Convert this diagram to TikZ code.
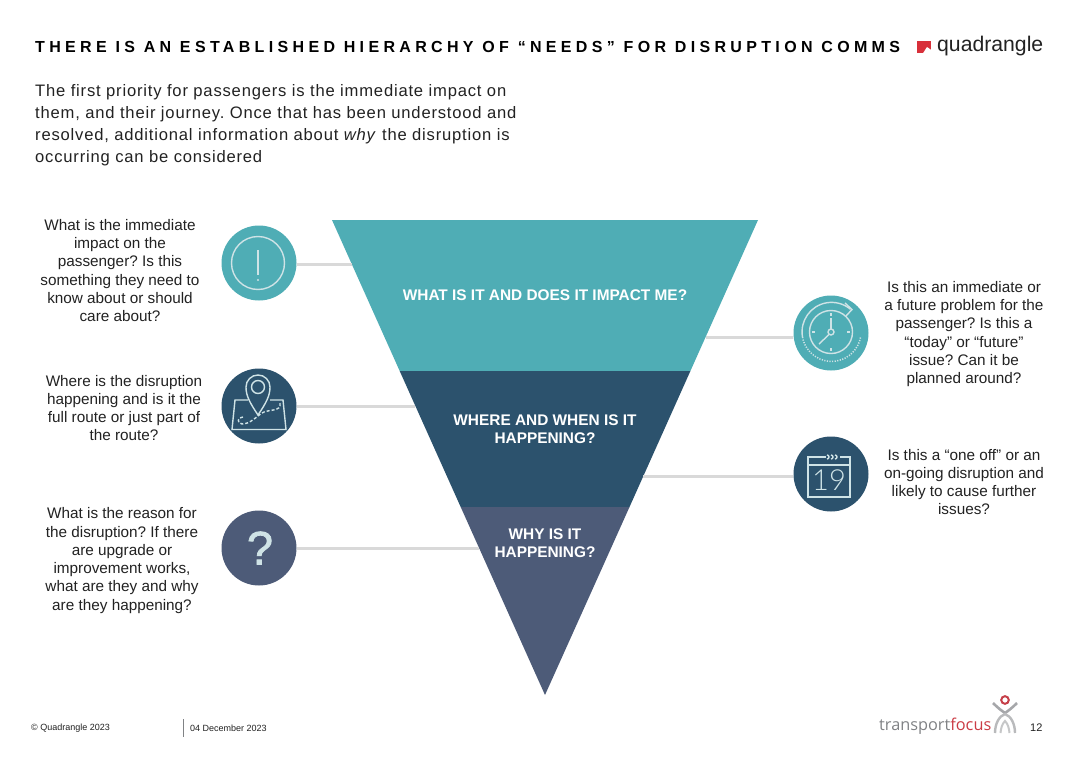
\documentclass[tikz,border=0pt]{standalone}
\usepackage{fontspec}
\setmainfont{Liberation Sans}
\newfontfamily\titlefont[LetterSpace=27.1]{Liberation Sans}
\newfontfamily\introfont[LetterSpace=4.85]{Liberation Sans}
\newfontfamily\qfont[FakeBold=1.6]{Liberation Sans}
\newfontfamily\logofont{Open Sans}
\newfontfamily\thinfont{Lato Light}
\definecolor{teal}{HTML}{4FADB5}
\definecolor{navy}{HTML}{2C526D}
\definecolor{slate}{HTML}{4D5B78}
\definecolor{ink}{HTML}{222222}
\definecolor{linkgrey}{HTML}{D9D9D9}
\definecolor{iconline}{HTML}{CFE3E6}
\definecolor{logored}{HTML}{D8303A}
\definecolor{tfgrey}{HTML}{808285}
\tikzset{
  x=1pt,y=-1pt,
  side/.style={align=center,text=ink,font=\frenchspacing\fontsize{15.3}{18.3}\selectfont,inner sep=0pt},
  band/.style={align=center,text=white,font=\fontsize{15.4}{18.3}\selectfont\bfseries,inner sep=0pt},
  iconcircle/.style={circle,minimum size=75pt,inner sep=0pt,fill=#1},
  link/.style={draw=linkgrey,line width=3pt},
  icon/.style={draw=iconline,line width=1.4pt},
  foot/.style={text=ink,font=\fontsize{9}{10}\selectfont,inner sep=0pt,anchor=west},
}
\begin{document}
\begin{tikzpicture}
\useasboundingbox (0,0) rectangle (1080,763);
\fill[white] (0,0) rectangle (1080,763);
% title
\node[anchor=west,inner sep=0pt,text=black] (title) at (35,47) {\titlefont\fontsize{16}{18}\selectfont\bfseries THERE IS AN ESTABLISHED HIERARCHY OF “NEEDS” FOR DISRUPTION COMMS};
\node[anchor=north west,inner sep=0pt,align=left,text=ink,font=\frenchspacing\introfont\fontsize{16.6}{22}\selectfont] (intro) at (35,84) {The first priority for passengers is the immediate impact on\\them, and their journey. Once that has been understood and\\resolved, additional information about \textit{why} the disruption is\\occurring can be considered};
% logo
\fill[logored] (917,41) rectangle (931,53);
\fill[white] (923,53.2) -- (927,47) -- (931.2,50) -- (931.2,53.2) -- cycle;
\node[anchor=west,inner sep=0pt,text=ink] (qlogo) at (937,46) {\fontsize{21.2}{22}\selectfont quadrangle};
% pyramid
\fill[teal] (332,220) -- (758,220) -- (690.4,371) -- (399.7,371) -- cycle;
\fill[navy] (399.7,371) -- (690.4,371) -- (629.5,507) -- (460.7,507) -- cycle;
\fill[slate] (460.7,507) -- (629.5,507) -- (545,695) -- cycle;
\node[band] (b1) at (545,295.5) {WHAT IS IT AND DOES IT IMPACT ME?};
\node[band] (b2) at (545,429.5) {WHERE AND WHEN IS IT\\HAPPENING?};
\node[band] (b3) at (545,543) {WHY IS IT\\HAPPENING?};
% link end points
\coordinate (e1) at (352,264);
\coordinate (e2) at (415,406);
\coordinate (e3) at (479,548);
\coordinate (e4) at (705.5,337);
\coordinate (e5) at (643,476);
% circles
\node[iconcircle=teal] (c1) at (259,263) {};
\node[iconcircle=navy] (c2) at (259,406) {};
\node[iconcircle=slate] (c3) at (259,548) {};
\node[iconcircle=teal] (c4) at (831,333) {};
\node[iconcircle=navy] (c5) at (831,474) {};
% connectors
\draw[link] (c1.east |- e1) -- (e1);
\draw[link] (c2.east |- e2) -- (e2);
\draw[link] (c3.east |- e3) -- (e3);
\draw[link] (c4.west |- e4) -- (e4);
\draw[link] (c5.west |- e5) -- (e5);
% icon 1
\draw[icon] (258,263) circle (26.5);
\draw[icon] (258,250) -- (258,275);
\fill[iconline] (258,280) circle (1.2);
% icon 2
\draw[icon] (258,415) .. controls (250,403) and (246,396) .. (246,387) arc[start angle=180,end angle=360,radius=12] .. controls (270,396) and (266,403) .. (258,415) -- cycle;
\draw[icon] (258,387) circle (6.5);
\draw[icon] (248,400) -- (235,400) -- (232,429.5) -- (286,429.5) -- (283,400) -- (270,400);
\draw[icon,dash pattern=on 3pt off 2pt] (243,417) .. controls (238,417) and (236,423) .. (242,424) .. controls (250,424) and (256,417) .. (262,413) .. controls (268,409) and (282,412) .. (280,403);
% icon 3
\node[inner sep=0pt,text=iconline,font=\qfont\fontsize{47}{50}\selectfont] (qmark) at (260,548) {?};
% icon 4
\draw[icon] (831,332) circle (21.5);
\draw[icon,fill=teal] (831,332) circle (3);
\draw[icon] (829,334.5) -- (819,344);
\draw[icon] (831,329) -- (831,318);
\draw[icon] (831,313) -- (831,316) (831,348) -- (831,351) (812,332) -- (815,332) (847,332) -- (850,332);
\draw[icon] (802.5,337) arc[start angle=170,end angle=310,radius=29.5];
\draw[iconline,line width=1.5pt,dash pattern=on 1.2pt off 1.4pt] (802.5,337) arc[start angle=170,end angle=10,radius=29.5];
\draw[icon] (845,303) -- (852,309.5) -- (846,316);
% icon 5
\draw[icon] (808,457) rectangle (850,497);
\draw[icon] (808,465) -- (850,465);
\fill[navy] (820,453) rectangle (840,460);
\draw[icon] (820,457) -- (826,457);
\draw[icon] (827,455) arc[start angle=-90,end angle=90,radius=2];
\draw[icon] (831,455) arc[start angle=-90,end angle=90,radius=2];
\draw[icon] (835,455) arc[start angle=-90,end angle=90,radius=2];
\node[inner sep=0pt,text=iconline,font=\thinfont\fontsize{29}{30}\selectfont] (nineteen) at (829,480) {19};
% side texts
\node[side] (t1) at (120,270.5) {What is the immediate\\impact on the\\passenger? Is this\\something they need to\\know about or should\\care about?};
\node[side] (t2) at (124,408) {Where is the disruption\\happening and is it the\\full route or just part of\\the route?};
\node[side] (t3) at (122,560.5) {What is the reason for\\the disruption? If there\\are upgrade or\\improvement works,\\what are they and why\\are they happening?};
\node[side] (t4) at (964,334) {Is this an immediate or\\a future problem for the\\passenger? Is this a\\“today” or “future”\\issue? Can it be\\planned around?};
\node[side] (t5) at (964,482) {Is this a “one off” or an\\on-going disruption and\\likely to cause further\\issues?};
% footer
\node[foot] (f1) at (31,728) {© Quadrangle 2023};
\coordinate (s1) at (183.5,719);
\coordinate (s2) at (183.5,737);
\draw[draw=tfgrey,line width=0.8pt] (s1) -- (s2);
\node[foot] (f2) at (190,728) {04 December 2023};
\node[anchor=west,inner sep=0pt,font=\fontsize{11}{12}\selectfont,text=ink] (pg) at (1030,728) {12};
% transport focus logo
\node[anchor=west,inner sep=0pt,font=\logofont\fontsize{16.3}{20}\selectfont] (tf) at (879,726) {\textcolor{tfgrey}{transport}\textcolor{logored!85!tfgrey}{focus}};
\draw[draw=logored!80!tfgrey,line width=2pt] (1005,700) circle (3.8);
\draw[draw=tfgrey!70!white,line width=2.6pt] (993,703) .. controls (998,708) and (1002,711) .. (1005,713) .. controls (1008,711) and (1012,708) .. (1017,703);
\draw[draw=tfgrey!55!white,line width=2.4pt] (995,733) .. controls (995,724) and (999,716) .. (1005,714) .. controls (1011,716) and (1015,724) .. (1015,733);
\draw[draw=tfgrey!45!white,line width=2pt] (1000.5,733) .. controls (1001,728) and (1002,724) .. (1005,721) .. controls (1008,724) and (1009,728) .. (1009.5,733);
\end{tikzpicture}
\end{document}
